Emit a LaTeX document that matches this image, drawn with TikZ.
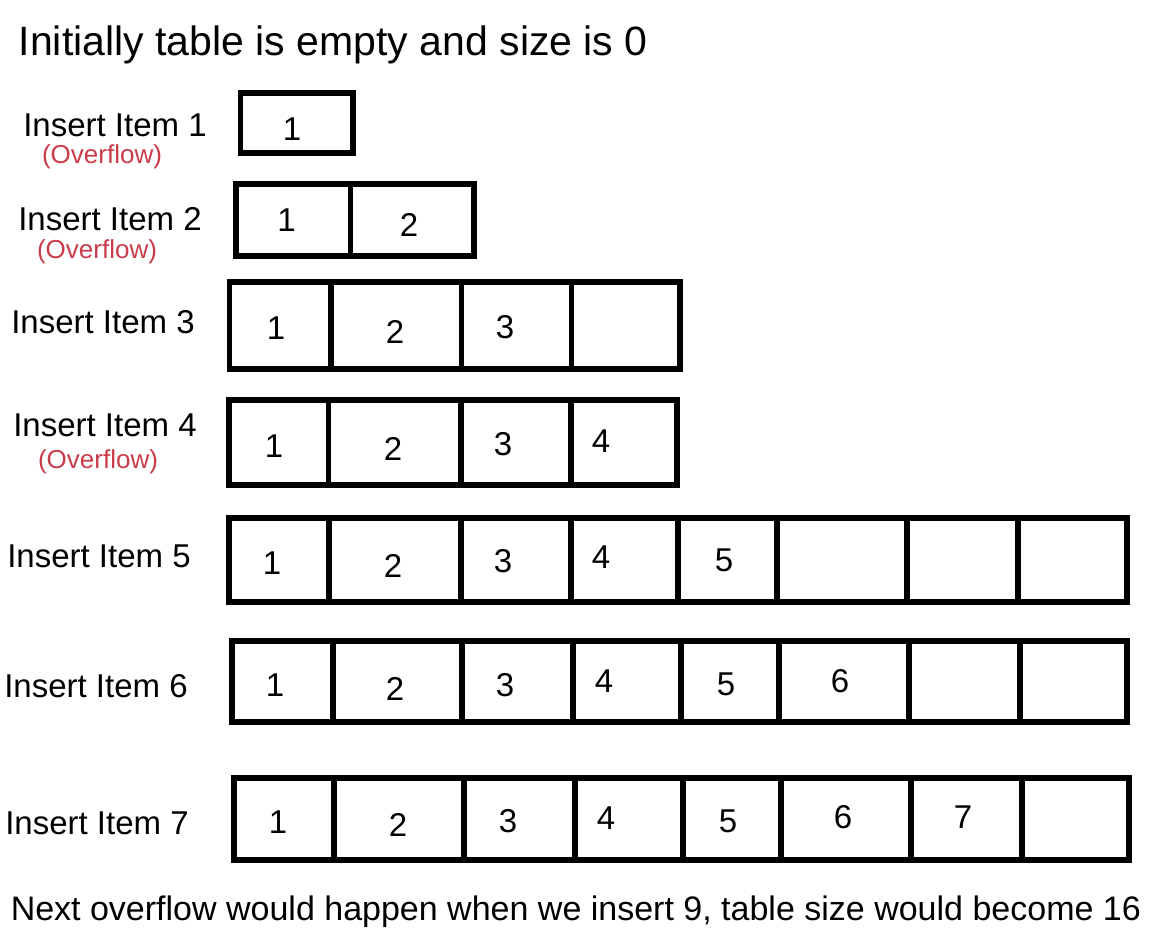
\documentclass[tikz,border=0pt]{standalone}
\usepackage{fontspec}
\setmainfont{Liberation Sans}
\usepackage{xcolor}
\usepackage{tikz}
\usetikzlibrary{positioning}
\definecolor{overflowred}{RGB}{200,60,75}

\begin{document}
\begin{tikzpicture}[x=1pt, y=-1pt, line width=5.5pt,
    cellnum/.style={inner sep=0pt, font=\fontsize{33}{40}\selectfont},
    itemlabel/.style={inner sep=0pt, font=\fontsize{33}{40}\selectfont},
    overflowlabel/.style={inner sep=0pt, text=overflowred, font=\fontsize{26}{31}\selectfont}]
    \useasboundingbox (0,0) rectangle (1170,946);
    \node[inner sep=0pt, anchor=base west, font=\fontsize{41}{49}\selectfont] (T) at (16,55) {Initially table is empty and size is 0};
    \node[itemlabel] (LA) at (115,125) {Insert Item 1};
    \node[overflowlabel] (OA) at (102,157) {(Overflow)};
    \node[itemlabel] (LB) at (110,219) {Insert Item 2};
    \node[overflowlabel] (OB) at (97,252) {(Overflow)};
    \node[itemlabel] (LC) at (103,322) {Insert Item 3};
    \node[itemlabel] (LD) at (105,425) {Insert Item 4};
    \node[overflowlabel] (OD) at (98,462) {(Overflow)};
    \node[itemlabel] (LE) at (99,556) {Insert Item 5};
    \node[itemlabel] (LF) at (96,686) {Insert Item 6};
    \node[itemlabel] (LG) at (97,823) {Insert Item 7};
    \node[inner sep=0pt, anchor=base west, font=\fontsize{34}{41}\selectfont] (N) at (8,920) {Next overflow would happen when we insert 9, table size would become 16};
    \draw (240.5,93) rectangle (353,153);
    \draw (236,184) rectangle (474,256);
    \draw (350.5,184) -- (350.5,256);
    \draw (229.5,282) rectangle (680,369);
    \draw (331,282) -- (331,369) (461.5,282) -- (461.5,369) (571.5,282) -- (571.5,369);
    \draw (229,400) rectangle (677,485);
    \draw (328.5,400) -- (328.5,485) (461,400) -- (461,485) (571,400) -- (571,485);
    \draw (229,518) rectangle (1127,602);
    \draw (329,518) -- (329,602) (461,518) -- (461,602) (571,518) -- (571,602) (678,518) -- (678,602);
    \draw (777,518) -- (777,602) (907,518) -- (907,602) (1018,518) -- (1018,602);
    \draw (232,641) rectangle (1127,722);
    \draw (333,641) -- (333,722) (462,641) -- (462,722) (573,641) -- (573,722) (681,641) -- (681,722);
    \draw (779,641) -- (779,722) (909,641) -- (909,722) (1020,641) -- (1020,722);
    \draw (234,778) rectangle (1129,860);
    \draw (334,778) -- (334,860) (464,778) -- (464,860) (575,778) -- (575,860) (683,778) -- (683,860);
    \draw (781,778) -- (781,860) (911,778) -- (911,860) (1022,778) -- (1022,860);
    \node[cellnum] (A1) at (292,129) {1};
    \node[cellnum] (B1) at (286.5,220) {1};
    \node[cellnum] (B2) at (409,225) {2};
    \node[cellnum] (C1) at (276,328) {1};
    \node[cellnum] (C2) at (395,332) {2};
    \node[cellnum] (C3) at (505,327) {3};
    \node[cellnum] (D1) at (274,446) {1};
    \node[cellnum] (D2) at (393,449) {2};
    \node[cellnum] (D3) at (503,444) {3};
    \node[cellnum] (D4) at (601,441) {4};
    \node[cellnum] (E1) at (272,563) {1};
    \node[cellnum] (E2) at (393,566) {2};
    \node[cellnum] (E3) at (503,561) {3};
    \node[cellnum] (E4) at (601,557) {4};
    \node[cellnum] (E5) at (724,560) {5};
    \node[cellnum] (F1) at (275,685) {1};
    \node[cellnum] (F2) at (395,689) {2};
    \node[cellnum] (F3) at (505,685) {3};
    \node[cellnum] (F4) at (604,681) {4};
    \node[cellnum] (F5) at (726,684) {5};
    \node[cellnum] (F6) at (840,681) {6};
    \node[cellnum] (G1) at (278,822) {1};
    \node[cellnum] (G2) at (398,825) {2};
    \node[cellnum] (G3) at (508,821) {3};
    \node[cellnum] (G4) at (606,818) {4};
    \node[cellnum] (G5) at (728,821) {5};
    \node[cellnum] (G6) at (843,817) {6};
    \node[cellnum] (G7) at (963,817) {7};
  \end{tikzpicture}
\end{document}
